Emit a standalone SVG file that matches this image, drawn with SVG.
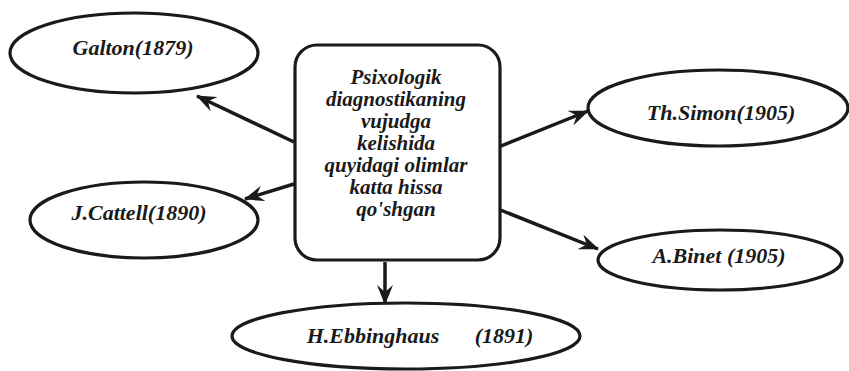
<svg xmlns="http://www.w3.org/2000/svg" width="849" height="371" viewBox="0 0 849 371">
<style>
.n{fill:#fff;stroke:#1a1a1a;stroke-width:3.2}
.t{font-family:"Liberation Serif","Times New Roman",serif;font-weight:bold;font-style:italic;font-size:22px;fill:#1a1a1a;text-anchor:middle}
.b{font-size:21px}
.c{stroke:#1a1a1a;stroke-width:3.5;fill:none;marker-end:url(#ah)}
</style>
<defs>
<marker id="ah" viewBox="0 0 20 16" refX="19" refY="8" markerWidth="20" markerHeight="16" markerUnits="userSpaceOnUse" orient="auto">
<path d="M0,0 L20,8 L0,16 L7,8 z" fill="#1a1a1a"/>
</marker>
</defs>
<rect width="849" height="371" fill="#fff"/>
<g id="connectors">
<line class="c" x1="294" y1="142" x2="197" y2="96"/>
<line class="c" x1="294" y1="184" x2="245" y2="199"/>
<line class="c" x1="496" y1="148" x2="588" y2="111"/>
<line class="c" x1="498" y1="209" x2="598" y2="249"/>
<line class="c" x1="385" y1="262" x2="385" y2="304"/>
</g>
<g id="center">
<rect class="n" x="295" y="45" width="205" height="215" rx="22"/>
<text class="t b" x="396" y="84">Psixologik</text>
<text class="t b" x="396" y="106">diagnostikaning</text>
<text class="t b" x="396" y="128">vujudga</text>
<text class="t b" x="396" y="150">kelishida</text>
<text class="t b" x="396" y="172">quyidagi olimlar</text>
<text class="t b" x="396" y="194">katta hissa</text>
<text class="t b" x="396" y="216">qo'shgan</text>
</g>
<g id="galton">
<ellipse class="n" cx="134" cy="53" rx="124" ry="40"/>
<text class="t" x="133" y="55">Galton(1879)</text>
</g>
<g id="cattell">
<ellipse class="n" cx="144" cy="220" rx="114" ry="38"/>
<text class="t" x="139" y="220">J.Cattell(1890)</text>
</g>
<g id="simon">
<ellipse class="n" cx="718" cy="108" rx="130" ry="38"/>
<text class="t" x="721" y="120">Th.Simon(1905)</text>
</g>
<g id="binet">
<ellipse class="n" cx="720" cy="260" rx="122" ry="30"/>
<text class="t" x="719" y="263">A.Binet (1905)</text>
</g>
<g id="ebbinghaus">
<ellipse class="n" cx="406" cy="336" rx="174" ry="33"/>
<text class="t" y="343"><tspan x="373">H.Ebbinghaus</tspan><tspan x="504">(1891)</tspan></text>
</g>
</svg>
